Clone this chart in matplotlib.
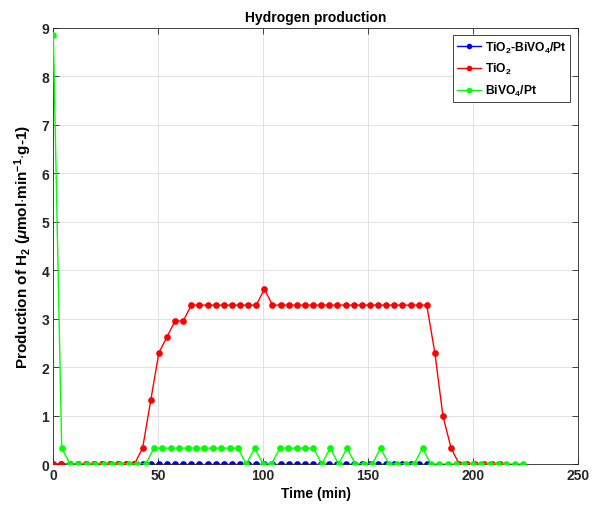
import matplotlib
matplotlib.use("Agg")
import matplotlib.pyplot as plt

# unit step seen in the measurements (umol/min/g)
u = 0.328

# TiO2-BiVO4/Pt : all zero
blue_t = [i * 3.87 for i in range(47)]
blue_y = [0.0] * 47

# TiO2
red_t = [i * 3.87 for i in range(56)]
red_y = ([0.0] * 11 +
         [1 * u, 4 * u, 7 * u, 8 * u, 9 * u, 9 * u] +
         [10 * u] * 9 + [11 * u] + [10 * u] * 20 +
         [7 * u, 3 * u, 1 * u] + [0.0] * 6)

# BiVO4/Pt
green_t = [i * 4.0 for i in range(57)]
green_y = ([27 * u, 1 * u] + [0.0] * 10 +
           [1 * u] * 11 + [0.0, 1 * u, 0.0, 0.0] + [1 * u] * 5 +
           [0.0, 1 * u, 0.0, 1 * u, 0.0, 0.0, 0.0, 1 * u,
            0.0, 0.0, 0.0, 0.0, 1 * u] + [0.0] * 12)

plt.rcParams['font.family'] = ['Liberation Sans', 'DejaVu Sans']
plt.rcParams['font.weight'] = 'bold'
plt.rcParams['mathtext.fontset'] = 'custom'
plt.rcParams['mathtext.rm'] = 'Liberation Sans:bold'
plt.rcParams['mathtext.bf'] = 'Liberation Sans:bold'
plt.rcParams['mathtext.it'] = 'Liberation Sans:italic'

axcol = '#262626'
fig = plt.figure(figsize=(5.99, 5.06), dpi=100)
ax = fig.add_axes([0.089, 0.081, 0.8755, 0.8617])

ax.plot(blue_t, blue_y, '-o', color='#0000ff', lw=1, ms=3.8, label='TiO$_2$-BiVO$_4$/Pt', zorder=2)
ax.plot(red_t, red_y, '-o', color='#ff0000', lw=1, ms=3.8, label='TiO$_2$', zorder=3)
ax.plot(green_t, green_y, '-o', color='#00ff00', lw=1, ms=3.8, label='BiVO$_4$/Pt', zorder=4)

ax.set_xlim(0, 250)
ax.set_ylim(0, 9)
ax.set_xticks(range(0, 251, 50))
ax.set_yticks(range(0, 10))
ax.grid(True, color='#dcdcdc', lw=0.6)
ax.set_axisbelow(True)
ax.tick_params(direction='in', length=4, width=0.6, colors=axcol, labelsize=10,
               top=True, right=True, pad=3)
for s in ax.spines.values():
    s.set_color(axcol)
    s.set_linewidth(0.6)
for lab in ax.get_xticklabels() + ax.get_yticklabels():
    lab.set_fontweight('bold')

ax.set_title('Hydrogen production', fontsize=10, fontweight='bold', pad=5)
ax.set_xlabel('Time (min)', fontsize=10, fontweight='bold', labelpad=3)
ax.set_ylabel(r'Production of H$_2$ ($\mu$mol$\cdot$min$^{-1}$$\cdot$g-1)',
              fontsize=11, fontweight='bold', labelpad=5)

leg = ax.legend(loc='upper right', fontsize=8.7, frameon=True, fancybox=False,
                edgecolor=axcol, framealpha=1, handlelength=2.0, borderpad=0.35,
                labelspacing=0.55, handletextpad=0.3, borderaxespad=0.6,
                markerscale=0.8)
leg.get_frame().set_linewidth(0.6)
for t in leg.get_texts():
    t.set_fontweight('bold')

fig.savefig('out.png', dpi=100)
